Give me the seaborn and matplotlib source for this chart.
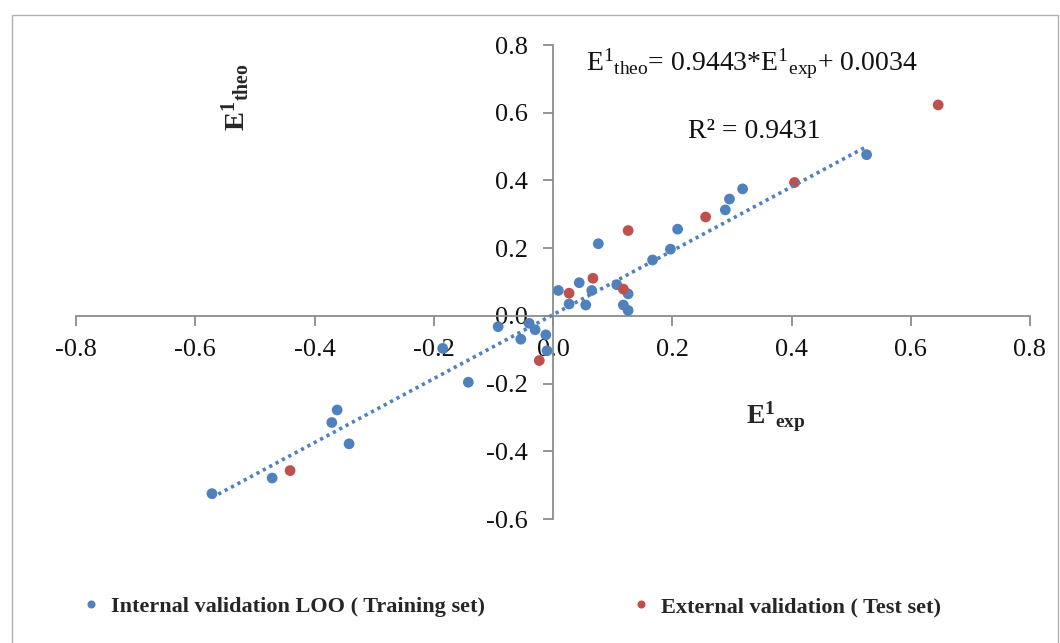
import numpy as np
import pandas as pd
import seaborn as sns
import matplotlib
matplotlib.use("Agg")
import matplotlib.pyplot as plt
from matplotlib.patches import Rectangle

# ---- data ----
train_x = [-0.572, -0.471, -0.371, -0.362, -0.342, -0.185, -0.142, -0.092, -0.054, -0.040,
           -0.030, -0.012, -0.010, 0.009, 0.027, 0.044, 0.055, 0.065, 0.076, 0.107,
           0.118, 0.126, 0.126, 0.167, 0.197, 0.209, 0.289, 0.296, 0.318, 0.526]
train_y = [-0.525, -0.479, -0.315, -0.278, -0.378, -0.096, -0.196, -0.032, -0.069, -0.022,
           -0.041, -0.056, -0.103, 0.075, 0.035, 0.098, 0.032, 0.075, 0.213, 0.092,
           0.032, 0.065, 0.016, 0.165, 0.197, 0.256, 0.313, 0.345, 0.375, 0.476]
test_x = [-0.441, -0.023, 0.027, 0.067, 0.118, 0.126, 0.256, 0.405, 0.646]
test_y = [-0.457, -0.132, 0.067, 0.111, 0.079, 0.252, 0.292, 0.394, 0.623]

series_names = ["Internal validation LOO ( Training set)", "External validation ( Test set)"]
slope, intercept = 0.9443, 0.0034
r2 = 0.9431
ticks_x = [-0.8, -0.6, -0.4, -0.2, 0.0, 0.2, 0.4, 0.6, 0.8]
ticks_y = [-0.6, -0.4, -0.2, 0.0, 0.2, 0.4, 0.6, 0.8]

df = pd.DataFrame({
    "x": train_x + test_x,
    "y": train_y + test_y,
    "set": [series_names[0]] * len(train_x) + [series_names[1]] * len(test_x),
})

sns.set_theme(style="white")
plt.rcParams["font.family"] = ["Liberation Serif", "DejaVu Serif"]
plt.rcParams["mathtext.fontset"] = "custom"
plt.rcParams["mathtext.rm"] = "Liberation Serif"
plt.rcParams["mathtext.it"] = "Liberation Serif:italic"
plt.rcParams["mathtext.bf"] = "Liberation Serif:bold"

W, H = 1060, 643
fig = plt.figure(figsize=(W / 100, H / 100), dpi=100)
fig.patch.set_facecolor("white")

# chart-area border
fig.patches.append(Rectangle((12 / W, -0.1), (1058 - 12) / W, 1.1 - 15 / H,
                             transform=fig.transFigure, fill=False,
                             edgecolor="#b0b0b0", lw=1.0, zorder=0))

x0, x1 = 76, 1030
y0, y1 = 519, 45
ax = fig.add_axes([x0 / W, 1 - y0 / H, (x1 - x0) / W, (y0 - y1) / H])
ax.set_facecolor("none")

blue = "#4F81BD"
red = "#C0504D"
sns.scatterplot(data=df, x="x", y="y", hue="set", palette=[blue, red],
                s=60, edgecolor="none", ax=ax, zorder=3)

# linear trendline of training set
tx = np.array([min(train_x), max(train_x)])
ax.plot(tx, slope * tx + intercept, color=blue, lw=2.6,
        linestyle=(0, (0.9, 1.1)), zorder=4)

ax.set_xlim(-0.8, 0.8)
ax.set_ylim(-0.6, 0.8)
ax.set_xticks(ticks_x)
ax.set_yticks(ticks_y)
ax.set_xticklabels([f"{t:.1f}" for t in ticks_x])
ax.set_yticklabels([f"{t:.1f}" for t in ticks_y])
ax.set_xlabel("")
ax.set_ylabel("")

for s in ["top", "right"]:
    ax.spines[s].set_visible(False)
ax.spines["left"].set_position(("data", 0))
ax.spines["bottom"].set_position(("data", 0))
for s in ["left", "bottom"]:
    ax.spines[s].set_color("#8c8c8c")
    ax.spines[s].set_linewidth(1.3)
ax.tick_params(axis="both", direction="out", length=7, width=1.3, color="#8c8c8c",
               labelsize=19, labelcolor="#111111")
ax.tick_params(axis="x", pad=10, bottom=True)
ax.tick_params(axis="y", pad=11, left=True)

# axis titles
fig.text(236 / W, 1 - 97 / H, r"$\mathbf{E}^{\mathbf{1}}{}_{\mathbf{theo}}$", rotation=90,
         ha="center", va="center", fontsize=20.5)
fig.text(776 / W, 1 - 417 / H, r"$\mathbf{E}^{\mathbf{1}}{}_{\mathbf{exp}}$",
         ha="center", va="center", fontsize=20)

# trendline equation
fig.text(752 / W, 1 - 64 / H,
         r"$\mathrm{E}^{1}{}_{\mathrm{theo}}$= " + f"{slope:.4f}" + r"*$\mathrm{E}^{1}{}_{\mathrm{exp}}$+ " + f"{intercept:.4f}",
         ha="center", va="center", fontsize=20, color="#111111")
fig.text(754 / W, 1 - 131 / H, f"R² = {r2:.4f}", ha="center", va="center",
         fontsize=20, color="#111111")

# legend
sns.move_legend(ax, loc="center left", bbox_to_anchor=(60 / W, 1 - 607 / H),
                bbox_transform=fig.transFigure, ncol=2, frameon=False, title=None,
                columnspacing=6.5, handlelength=1.0, handletextpad=0.4, markerscale=0.75,
                prop={"family": "Liberation Serif", "weight": "bold", "size": 16})

fig.savefig("out.png", dpi=100, facecolor="white")
